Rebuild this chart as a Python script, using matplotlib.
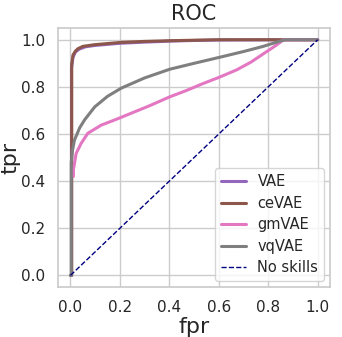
import matplotlib
matplotlib.use("Agg")
import matplotlib.pyplot as plt
import seaborn as sns
import numpy as np

sns.set_theme(style="whitegrid")

# ROC points (fpr, tpr)
vae_fpr = [0.0, 0.004, 0.004, 0.010, 0.020, 0.035, 0.060, 0.10, 0.20, 0.30, 0.40, 0.50, 0.60, 0.87, 1.0]
vae_tpr = [0.0, 0.0, 0.880, 0.925, 0.948, 0.960, 0.970, 0.976, 0.985, 0.990, 0.994, 0.997, 0.999, 1.0, 1.0]

cevae_fpr = [0.0, 0.005, 0.005, 0.010, 0.020, 0.030, 0.050, 0.097, 0.206, 0.30, 0.402, 0.50, 0.60, 0.87, 1.0]
cevae_tpr = [0.0, 0.0, 0.895, 0.935, 0.952, 0.962, 0.972, 0.979, 0.989, 0.993, 0.996, 0.998, 1.0, 1.0, 1.0]

gmvae_fpr = [0.012, 0.012, 0.023, 0.043, 0.070, 0.125, 0.18, 0.25, 0.32, 0.40, 0.47, 0.536, 0.60, 0.672, 0.73, 0.78, 0.83, 0.862, 1.0]
gmvae_tpr = [0.420, 0.450, 0.518, 0.560, 0.603, 0.638, 0.660, 0.690, 0.720, 0.757, 0.785, 0.814, 0.840, 0.872, 0.905, 0.940, 0.975, 1.0, 1.0]

vqvae_fpr = [0.0, 0.003, 0.003, 0.008, 0.016, 0.037, 0.057, 0.098, 0.15, 0.206, 0.30, 0.402, 0.50, 0.605, 0.70, 0.78, 0.85, 0.87, 1.0]
vqvae_tpr = [0.0, 0.0, 0.480, 0.530, 0.574, 0.626, 0.660, 0.715, 0.760, 0.795, 0.838, 0.875, 0.900, 0.926, 0.950, 0.972, 0.995, 1.0, 1.0]

skill_x = [0.0, 1.0]
skill_y = [0.0, 1.0]

fig = plt.figure(figsize=(3.42, 3.37), dpi=100)
ax = fig.add_axes([0.17, 0.148, 0.795, 0.769])

ax.plot(vae_fpr, vae_tpr, color="tab:purple", lw=2.2, label="VAE")
ax.plot(cevae_fpr, cevae_tpr, color="tab:brown", lw=2.2, label="ceVAE")
ax.plot(gmvae_fpr, gmvae_tpr, color="tab:pink", lw=2.2, label="gmVAE")
ax.plot(vqvae_fpr, vqvae_tpr, color="tab:gray", lw=2.2, label="vqVAE")
ax.plot(skill_x, skill_y, color="navy", lw=1, ls="--", label="No skills")

ax.set_xlim(-0.05, 1.05)
ax.set_ylim(-0.05, 1.05)
ax.set_xticks(np.arange(0, 1.01, 0.2))
ax.set_yticks(np.arange(0, 1.01, 0.2))
ax.tick_params(labelsize=11)
ax.set_title("ROC", fontsize=15)
ax.set_xlabel("fpr", fontsize=16, labelpad=1)
ax.set_ylabel("tpr", fontsize=16, labelpad=0)
ax.legend(loc="lower right", fontsize=10.5, handlelength=1.7,
          labelspacing=0.45, borderaxespad=0.4)

fig.savefig("out.png", dpi=100)
